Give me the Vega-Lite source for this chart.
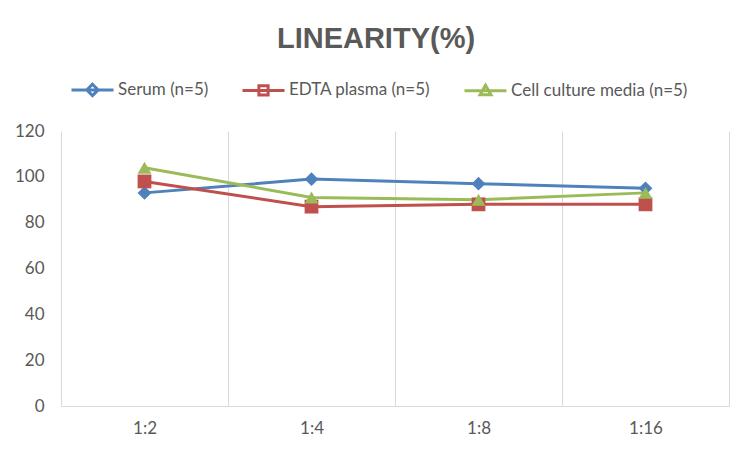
{
  "$schema": "https://vega.github.io/schema/vega-lite/v6.json",
  "width": 668,
  "height": 275,
  "autosize": {"type": "none"},
  "padding": {"left": 61, "top": 131, "right": 23, "bottom": 46},
  "background": "white",
  "title": {
    "text": "LINEARITY(%)",
    "font": "Liberation Sans",
    "fontSize": 29,
    "fontWeight": "bold",
    "color": "#595959",
    "anchor": "middle",
    "dx": -19,
    "offset": 0,
    "dy": 10,
    "baseline": "alphabetic"
  },
  "data": {
    "values": [
      {"dilution": "1:2", "series": "Serum (n=5)", "value": 93},
      {"dilution": "1:4", "series": "Serum (n=5)", "value": 99},
      {"dilution": "1:8", "series": "Serum (n=5)", "value": 97},
      {"dilution": "1:16", "series": "Serum (n=5)", "value": 95},
      {"dilution": "1:2", "series": "EDTA plasma (n=5)", "value": 98},
      {"dilution": "1:4", "series": "EDTA plasma (n=5)", "value": 87},
      {"dilution": "1:8", "series": "EDTA plasma (n=5)", "value": 88},
      {"dilution": "1:16", "series": "EDTA plasma (n=5)", "value": 88},
      {"dilution": "1:2", "series": "Cell culture media (n=5)", "value": 104},
      {"dilution": "1:4", "series": "Cell culture media (n=5)", "value": 91},
      {"dilution": "1:8", "series": "Cell culture media (n=5)", "value": 90},
      {"dilution": "1:16", "series": "Cell culture media (n=5)", "value": 93}
    ]
  },
  "encoding": {
    "x": {
      "field": "dilution",
      "type": "ordinal",
      "sort": ["1:2", "1:4", "1:8", "1:16"],
      "bandPosition": 0.5,
      "scale": {"type": "band", "paddingInner": 0, "paddingOuter": 0},
      "axis": {
        "title": null,
        "labelAngle": 0,
        "tickBand": "extent",
        "grid": true,
        "gridColor": "#d9d9d9",
        "ticks": false,
        "domainColor": "#d9d9d9",
        "labelColor": "#595959",
        "labelFont": "Lato",
        "labelFontSize": 17,
        "labelPadding": 14
      }
    },
    "y": {
      "field": "value",
      "type": "quantitative",
      "scale": {"domain": [0, 120], "nice": false},
      "axis": {
        "title": null,
        "values": [0, 20, 40, 60, 80, 100, 120],
        "grid": false,
        "domain": false,
        "ticks": false,
        "labelColor": "#595959",
        "labelFont": "Lato",
        "labelFontSize": 17,
        "labelPadding": 17
      }
    },
    "color": {
      "field": "series",
      "type": "nominal",
      "scale": {
        "domain": ["Serum (n=5)", "EDTA plasma (n=5)", "Cell culture media (n=5)"],
        "range": ["#4f81bd", "#c0504d", "#9bbb59"]
      },
      "legend": {
        "title": null,
        "orient": "none",
        "direction": "horizontal",
        "legendX": 9,
        "legendY": -64,
        "symbolSize": 1764,
        "symbolStrokeWidth": 3,
        "symbolOpacity": 1,
        "symbolFillColor": {"expr": "scale('color', datum.value)"},
        "labelOffset": 3,
        "columnPadding": 27,
        "labelColor": "#595959",
        "labelFont": "Lato",
        "labelFontSize": 17,
        "labelLimit": 300
      }
    }
  },
  "layer": [
    {
      "mark": {"type": "point", "filled": true, "opacity": 0},
      "encoding": {
        "stroke": {
          "field": "series",
          "type": "nominal",
          "scale": {
            "domain": ["Serum (n=5)", "EDTA plasma (n=5)", "Cell culture media (n=5)"],
            "range": ["#4f81bd", "#c0504d", "#9bbb59"]
          },
          "legend": {"title": null}
        },
        "shape": {
          "field": "series",
          "type": "nominal",
          "scale": {
            "domain": ["Serum (n=5)", "EDTA plasma (n=5)", "Cell culture media (n=5)"],
            "range": [
              "M-1,0H1M0,-0.27L0.27,0L0,0.27L-0.27,0Z",
              "M-1,0H1M-0.22,-0.22H0.22V0.22H-0.22Z",
              "M-1,0H1M0,-0.26L0.26,0.2H-0.26Z"
            ]
          },
          "legend": {"title": null}
        }
      }
    },
    {
      "mark": {"type": "line", "strokeWidth": 3}
    },
    {
      "transform": [{"filter": "datum.series === 'Serum (n=5)'"}],
      "mark": {"type": "point", "shape": "diamond", "filled": true, "opacity": 1, "size": 190}
    },
    {
      "transform": [{"filter": "datum.series === 'EDTA plasma (n=5)'"}],
      "mark": {"type": "point", "shape": "square", "filled": true, "opacity": 1, "size": 190}
    },
    {
      "transform": [{"filter": "datum.series === 'Cell culture media (n=5)'"}],
      "mark": {"type": "point", "shape": "triangle-up", "filled": true, "opacity": 1, "size": 190}
    }
  ],
  "config": {
    "view": {"stroke": null}
  }
}
